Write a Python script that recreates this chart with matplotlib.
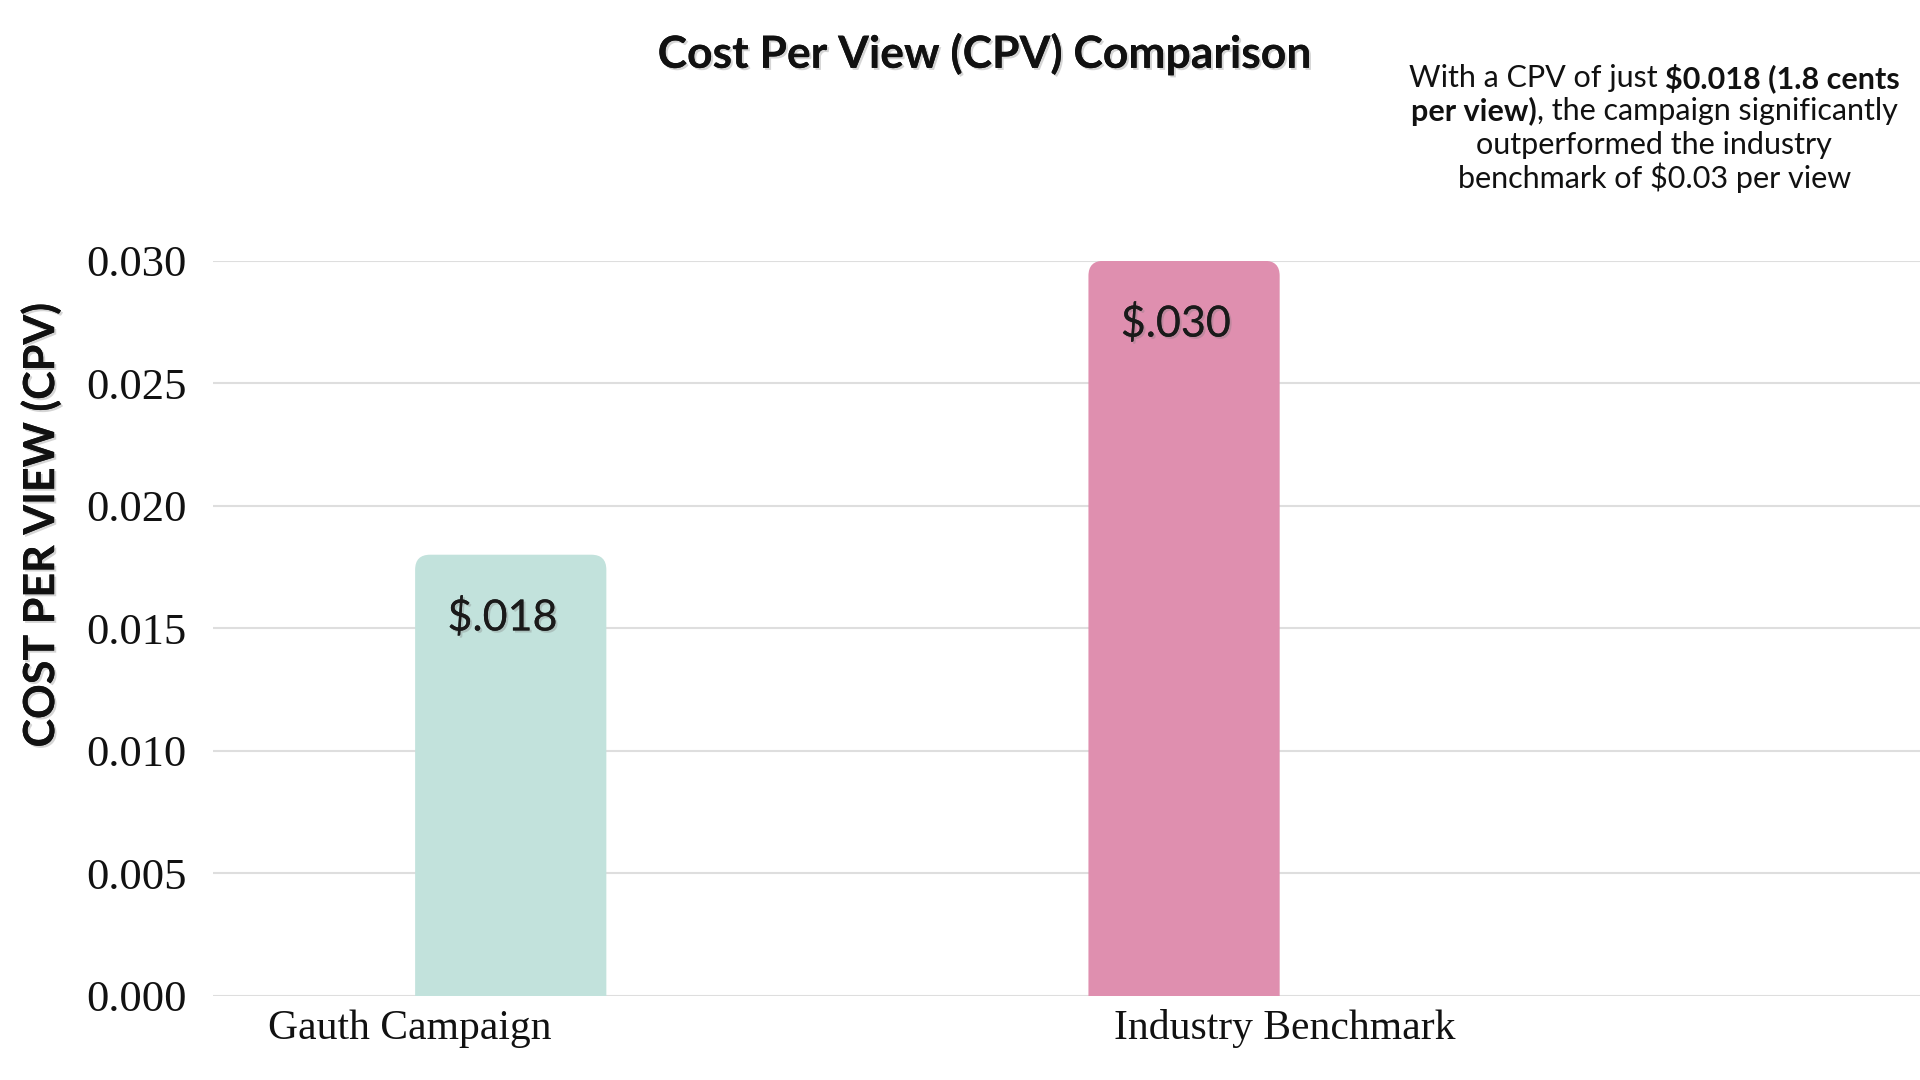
import matplotlib
matplotlib.use('Agg')
import matplotlib.pyplot as plt
import matplotlib.patheffects as pe
from matplotlib.patches import FancyBboxPatch

# 数据
categories = ['Gauth Campaign', 'Industry Benchmark']
cpv_values = [0.018, 0.030]
bar_labels = ['$.018', '$.030']
bar_colors = ['#c2e2dc', '#df8faf']
y_ticks = [0.000, 0.005, 0.010, 0.015, 0.020, 0.025, 0.030]

title_text = 'Cost Per View (CPV) Comparison'
y_label = 'COST PER VIEW (CPV)'
note_lines = [
    [('With a CPV of just ', 'normal'), ('$0.018 (1.8 cents', 'bold')],
    [('per view)', 'bold'), (', the campaign significantly', 'normal')],
    [('outperformed the industry', 'normal')],
    [('benchmark of $0.03 per view', 'normal')],
]

SANS = ['Lato', 'DejaVu Sans']
SERIF = ['Liberation Serif', 'DejaVu Serif']
shadow = [pe.withSimplePatchShadow(offset=(1.5, -1.5), shadow_rgbFace='#777777', alpha=0.3), pe.Normal()]


def esc(s):
    return s.replace('$', r'\$')


def draw_bars(ax):
    """画圆角柱子"""
    x = list(range(len(categories)))
    bars = ax.bar(x, cpv_values, width=0.284, color=bar_colors, zorder=3)
    ax.set_xlim(-0.442, 2.093)
    ax.set_ylim(0, 0.030)

    fig = ax.figure
    bb = ax.get_position()
    w_px = bb.width * fig.get_figwidth() * fig.dpi
    h_px = bb.height * fig.get_figheight() * fig.dpi
    x_ppu = w_px / (ax.get_xlim()[1] - ax.get_xlim()[0])
    y_ppu = h_px / (ax.get_ylim()[1] - ax.get_ylim()[0])
    aspect = x_ppu / y_ppu
    r = 15 / x_ppu

    for rect, lab in zip(bars, bar_labels):
        x0, w, h = rect.get_x(), rect.get_width(), rect.get_height()
        fc = rect.get_facecolor()
        rect.remove()
        patch = FancyBboxPatch((x0, -r * aspect), w, h + r * aspect,
                               boxstyle=f'round,pad=0,rounding_size={r}',
                               mutation_aspect=aspect, fc=fc, ec='none', zorder=3)
        ax.add_patch(patch)
        ax.annotate(esc(lab), (x0 + w / 2, h), xytext=(-6, -45), textcoords='offset points',
                    ha='center', va='center', fontsize=31, family=SANS, color='#1a1a1a',
                    zorder=4, path_effects=shadow)


def draw_note(fig):
    """右上角说明文字（混合粗细）"""
    renderer = fig.canvas.get_renderer()
    W = fig.get_figwidth() * fig.dpi
    fs = 22

    def width(s, weight):
        t = fig.text(0, 0, esc(s), fontsize=fs, family=SANS, weight=weight)
        wd = t.get_window_extent(renderer).width
        t.remove()
        return wd

    space = width('x x', 'normal') - width('xx', 'normal')
    cx = 0.8616 * W
    ys = [0.928, 0.897, 0.866, 0.835]
    for segs, yf in zip(note_lines, ys):
        parts = []
        for s, wt in segs:
            lead = space if s.startswith(' ') else 0
            trail = space if s.endswith(' ') else 0
            parts.append((s.strip(), wt, lead, width(s.strip(), wt), trail))
        total = sum(p[2] + p[3] + p[4] for p in parts)
        xp = cx - total / 2
        for s, wt, lead, wd, trail in parts:
            xp += lead
            fig.text(xp / W, yf, esc(s), fontsize=fs, family=SANS, weight=wt,
                     color='#111111', ha='left', va='center')
            xp += wd + trail


def main():
    fig = plt.figure(figsize=(19.2, 10.8), dpi=100)
    ax = fig.add_axes([0.111, 0.0782, 0.889, 0.6803])

    draw_bars(ax)

    ax.set_yticks(y_ticks)
    ax.set_yticklabels([f'{v:.3f}' for v in y_ticks], fontsize=32, family=SERIF)
    xt = [i + (i - 0.5) * 0.3 for i in range(len(categories))]
    ax.set_xticks(xt)
    ax.set_xticklabels(categories, fontsize=30, family=SERIF)
    ax.tick_params(axis='both', length=0, colors='#111111')
    ax.tick_params(axis='y', pad=19)
    ax.tick_params(axis='x', pad=10)
    ax.yaxis.grid(True, color='#dedede', lw=1.5, zorder=0)
    ax.set_axisbelow(True)
    for sp in ax.spines.values():
        sp.set_visible(False)

    fig.text(0.513, 0.95, title_text, fontsize=32, weight='bold', family=SANS,
             ha='center', va='center', color='#111111', path_effects=shadow)
    fig.text(0.021, 0.5136, y_label, fontsize=31, weight='bold', family=SANS, rotation=90,
             ha='center', va='center', color='#111111', path_effects=shadow)

    draw_note(fig)

    fig.savefig('out.png', dpi=100, facecolor='white')


if __name__ == '__main__':
    main()
